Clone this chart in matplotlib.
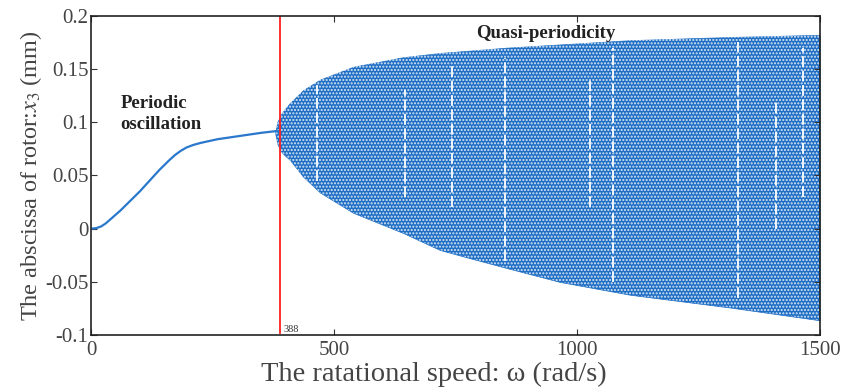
import numpy as np
import matplotlib
matplotlib.use('Agg')
import matplotlib.pyplot as plt

# periodic branch
w_per = [0, 10, 20, 30, 45, 60, 80, 100, 120, 140, 160, 172, 184, 196, 210, 225, 240, 260, 290, 320,
         350, 388]
x_per = [0.0, 0.0005, 0.002, 0.005, 0.011, 0.017, 0.026, 0.035, 0.045, 0.055, 0.064, 0.069, 0.0730,
         0.0762, 0.0786, 0.0805, 0.082, 0.084, 0.086, 0.088, 0.090, 0.092]

# quasi-periodic envelope
w_env = [379, 383, 390, 398, 409, 436, 471, 539, 642, 718, 774, 856, 965, 1109, 1315, 1500]
x_up = [0.091, 0.100, 0.107, 0.112, 0.118, 0.130, 0.140, 0.152, 0.161, 0.165, 0.167, 0.170,
        0.173, 0.177, 0.180, 0.182]
x_lo = [0.089, 0.080, 0.073, 0.069, 0.0646, 0.049, 0.034, 0.015, -0.004, -0.020, -0.027, -0.037,
        -0.050, -0.062, -0.074, -0.086]

# white gaps (windows) in the quasi-periodic region
w_gap = [465, 646, 743, 852, 1027, 1075, 1331, 1411, 1465]
gap_top = [0.135, 0.130, 0.155, 0.160, 0.140, 0.170, 0.175, 0.120, 0.170]
gap_bot = [0.045, 0.030, 0.020, -0.030, 0.020, -0.050, -0.065, 0.000, 0.030]

omega_c = 388

plt.rcParams['font.family'] = ['Liberation Serif', 'DejaVu Serif']
plt.rcParams['mathtext.fontset'] = 'stix'

fig = plt.figure(figsize=(8.45, 3.92), dpi=100)
ax = fig.add_axes([0.108, 0.145, 0.862, 0.815])

blue = '#1f6fc5'
ax.plot(w_per, x_per, color='#2a78cc', lw=1.6)
ax.fill_between(w_env, x_lo, x_up, facecolor=blue, edgecolor=blue, lw=0.5)
ax.fill_between(w_env, x_lo, x_up, facecolor='none', edgecolor='#dce8f6',
                hatch='.....', lw=0)
ax.vlines(w_gap, gap_bot, gap_top, colors='white', lw=1.3, linestyles=(0, (6, 2)))

ax.axvline(omega_c, ymin=0.008, ymax=1, color='#ff2020', lw=1.3)
ax.text(omega_c + 8, -0.097, str(omega_c), fontsize=7.5, color='#333333')

ax.text(60, 0.094, 'Periodic\noscillation', fontsize=13.5, fontweight='bold',
        color='#222222', linespacing=1.25)
ax.text(935, 0.179, 'Quasi-periodicity', fontsize=13.5, fontweight='bold',
        color='#222222', ha='center')

ax.set_xlim(0, 1500)
ax.set_ylim(-0.1, 0.2)
ax.set_xticks([0, 500, 1000, 1500])
ax.set_yticks([-0.1, -0.05, 0, 0.05, 0.1, 0.15, 0.2])
ax.set_yticklabels(['-0.1', '-0.05', '0', '0.05', '0.1', '0.15', '0.2'])
ax.tick_params(direction='in', top=True, right=True, labelsize=15, length=4,
               colors='#333333', labelcolor='#444444', pad=2)
ax.tick_params(axis='x', pad=4)
for s in ax.spines.values():
    s.set_linewidth(1.2)
    s.set_color('#222222')

ax.set_xlabel('The ratational speed: ω (rad/s)', fontsize=20.5, color='#444444')
ax.xaxis.set_label_coords(0.47, -0.085)
ax.set_ylabel('The abscissa of rotor:$x_3$ (mm)', fontsize=17.5, color='#444444', labelpad=1)

fig.savefig('out.png', dpi=100)
